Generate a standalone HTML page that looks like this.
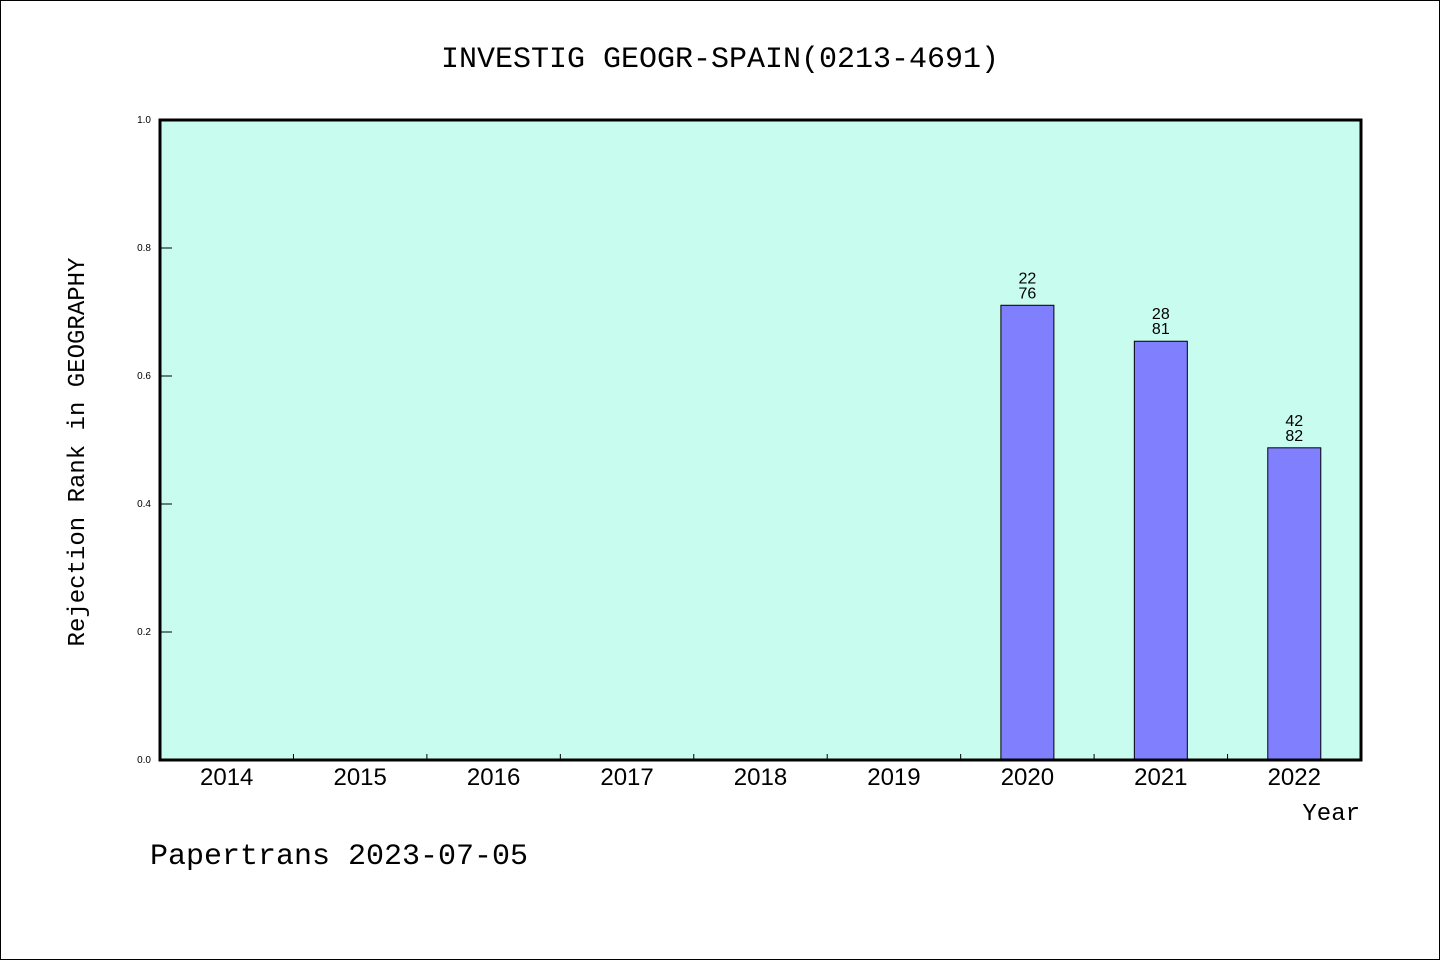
<!DOCTYPE html>
<html><head><meta charset="utf-8"><style>
body{margin:0;background:#fff}
svg text{font-family:"Liberation Sans","WenQuanYi Zen Hei",sans-serif}
.mono{font-family:"Liberation Mono","WenQuanYi Zen Hei",monospace}
</style></head><body>
<svg id="chart" width="1440" height="960" xmlns="http://www.w3.org/2000/svg">
<rect x="0.5" y="0.5" width="1439" height="959" fill="#fff" stroke="#000"/>
<text x="720" y="67" text-anchor="middle" font-size="30" class="mono" style="font-family:'Liberation Mono',monospace">INVESTIG GEOGR-SPAIN(0213-4691)</text>
<rect x="160" y="120" width="1201" height="640" fill="#c8fcee"/>
<g id="bars"></g>
<g id="axes"></g>
<rect x="160" y="120" width="1201" height="640" fill="none" stroke="#000" stroke-width="3"/>
<text transform="translate(84,452) rotate(-90)" text-anchor="middle" font-size="24" style="font-family:'Liberation Mono',monospace">Rejection Rank in GEOGRAPHY</text>
<text x="1360" y="820" text-anchor="end" font-size="24" style="font-family:'Liberation Mono',monospace">Year</text>
<text x="150" y="864" font-size="30" style="font-family:'Liberation Mono',monospace">Papertrans 2023-07-05</text>
</svg>
<script>
const categories=["2014","2015","2016","2017","2018","2019","2020","2021","2022"];
const values=[null,null,null,null,null,null,0.7105,0.6543,0.4878];
const ranks=[null,null,null,null,null,null,"22","28","42"];
const totals=[null,null,null,null,null,null,"76","81","82"];
const yTicks=[0,0.2,0.4,0.6,0.8,1.0];
const yTickLabels=["0.0","0.2","0.4","0.6","0.8","1.0"];
const NS="http://www.w3.org/2000/svg";
const X0=160,X1=1361,Y0=760,Y1=120;
const step=(X1-X0)/categories.length;
const xC=i=>X0+step*(i+0.5);
const y=v=>Y0-(Y0-Y1)*v;
function mk(t,a,p){const e=document.createElementNS(NS,t);for(const k in a)e.setAttribute(k,a[k]);p.appendChild(e);return e;}
const bars=document.getElementById('bars'),axes=document.getElementById('axes');
values.forEach((v,i)=>{
  if(v==null)return;
  const r=mk('rect',{x:xC(i)-26.5,y:y(v),width:53,height:Y0-y(v),fill:'#8080ff',stroke:'#000','stroke-width':1},bars);
  
  
  const t1=mk('text',{x:xC(i),y:y(v)-22,'text-anchor':'middle','font-size':16},bars);t1.textContent=ranks[i];
  
  
  const t2=mk('text',{x:xC(i),y:y(v)-7,'text-anchor':'middle','font-size':16},bars);t2.textContent=totals[i];
  
  
});
categories.forEach((c,i)=>{
  const t=mk('text',{x:xC(i),y:785,'text-anchor':'middle','font-size':24},axes);t.textContent=c;
  
  
  if(i>0){const l=mk('line',{x1:X0+step*i,x2:X0+step*i,y1:Y0,y2:Y0-6,stroke:'#000'},axes);
  
  }
});
yTicks.forEach((v,i)=>{
  const l=mk('line',{x1:X0,x2:X0+12,y1:y(v),y2:y(v),stroke:'#000'},axes);
  
  
  const t=mk('text',{x:151,y:y(v)+3,'text-anchor':'end','font-size':10},axes);t.textContent=yTickLabels[i];
  
  
});
</script>
</body></html>
